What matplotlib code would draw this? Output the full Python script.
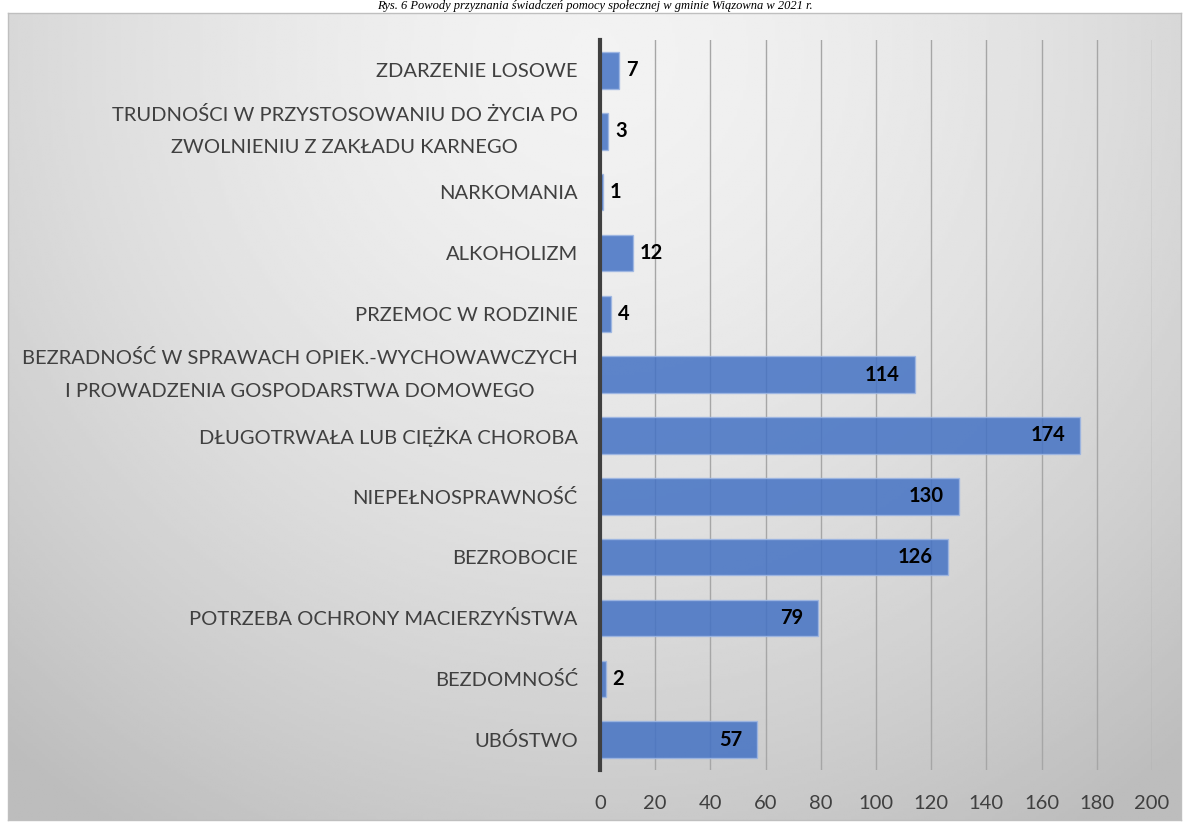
import numpy as np
import matplotlib.pyplot as plt

categories = [
    "UBÓSTWO",
    "BEZDOMNOŚĆ",
    "POTRZEBA OCHRONY MACIERZYŃSTWA",
    "BEZROBOCIE",
    "NIEPEŁNOSPRAWNOŚĆ",
    "DŁUGOTRWAŁA LUB CIĘŻKA CHOROBA",
    "BEZRADNOŚĆ W SPRAWACH OPIEK.-WYCHOWAWCZYCH\nI PROWADZENIA GOSPODARSTWA DOMOWEGO",
    "PRZEMOC W RODZINIE",
    "ALKOHOLIZM",
    "NARKOMANIA",
    "TRUDNOŚCI W PRZYSTOSOWANIU DO ŻYCIA PO\nZWOLNIENIU Z ZAKŁADU KARNEGO",
    "ZDARZENIE LOSOWE",
]
values = [57, 2, 79, 126, 130, 174, 114, 4, 12, 1, 3, 7]
xticks = list(range(0, 201, 20))

plt.rcParams['font.family'] = ['Lato', 'DejaVu Sans']

fig = plt.figure(figsize=(11.89, 8.23), dpi=100)
W, H = 1189, 823

# background panel with radial gradient
bg = fig.add_axes([8 / W, 1 - 820 / H, 1173 / W, 807 / H])
yy, xx = np.mgrid[0:1:300j, 0:1:400j]
r = np.sqrt(((xx - 0.5) / 0.75) ** 2 + ((yy - 0.05) / 1.1) ** 2)
g = np.clip(0.95 - 0.2 * r ** 1.6, 0.74, 0.95)
bg.imshow(g, cmap='gray', vmin=0, vmax=1, aspect='auto', extent=[0, 1, 1, 0])
bg.set_xticks([])
bg.set_yticks([])
for s in bg.spines.values():
    s.set_color('#bfbfbf')
    s.set_linewidth(1)

# title above the panel
fig.text(0.5, 1 - 12 / H, "Rys. 6 Powody przyznania świadczeń pomocy społecznej w gminie Wiązowna w 2021 r.",
         ha='center', va='bottom', fontsize=9, style='italic', family='Liberation Serif')

ax = fig.add_axes([600 / W, 1 - 770 / H, 552 / W, 730 / H])
ax.patch.set_alpha(0)
y = np.arange(len(categories))
ax.set_xlim(0, 200)
ax.set_ylim(-0.5, len(categories) - 0.5)
ax.set_xticks(xticks)
ax.grid(axis='x', color='#a6a6a6', linewidth=1)
ax.set_axisbelow(True)
ax.barh(y, values, height=0.6, color='#4472c4', alpha=0.85, edgecolor='#9db6e3', linewidth=1)
for yi, v in zip(y, values):
    if v > 40:
        ax.text(v - 5.5, yi, str(v), ha='right', va='center', fontsize=14.5, fontweight='bold')
    else:
        ax.text(v + 2.5, yi, str(v), ha='left', va='center', fontsize=14.5, fontweight='bold')

ax.set_yticks(y)
labels = ax.set_yticklabels(categories, fontsize=14.5, color='#404040', linespacing=2.1,
                            multialignment='center')
for lab in labels:
    if '\n' in lab.get_text():
        lab.set_verticalalignment('center')
ax.tick_params(axis='y', length=0, pad=16)
ax.tick_params(axis='x', length=0, pad=18, labelsize=14.5, labelcolor='#404040')
for s in ['top', 'right', 'bottom']:
    ax.spines[s].set_visible(False)
ax.spines['left'].set_color('#404040')
ax.spines['left'].set_linewidth(3)

fig.savefig('out.png', dpi=100)
